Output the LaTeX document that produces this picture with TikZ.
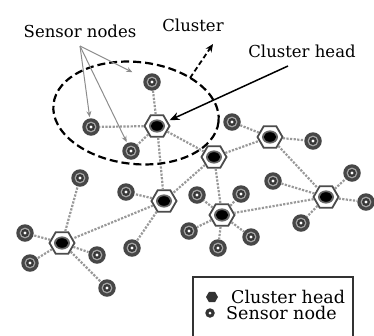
\documentclass[tikz,border=0pt]{standalone}
\usepackage{fontspec}
\setmainfont{DejaVu Serif}
\usetikzlibrary{shapes.geometric,arrows.meta}

\tikzset{
  sensor/.style={circle, inner sep=0pt, minimum size=17.5pt, fill=black!72,
    path picture={
      \fill[black!35] (path picture bounding box.center) circle (5.4pt);
      \fill[black!78] (path picture bounding box.center) circle (4pt);
      \fill[white] (path picture bounding box.center) circle (1.7pt);}},
  chead/.style={regular polygon, regular polygon sides=6, inner sep=0pt,
    minimum size=25pt, draw=black!70, line width=1.8pt, fill=white,
    path picture={
      \fill[black!60] (path picture bounding box.center) ellipse (8pt and 6.6pt);
      \fill[black] (path picture bounding box.center) ellipse (6.2pt and 4.8pt);}},
  link/.style={draw=black!40, line width=2.2pt, dash pattern=on 2.2pt off 1.4pt},
  lbl/.style={font=\fontsize{16.5}{19}\selectfont, inner sep=0pt},
  ptr/.style={draw=black!45, line width=1pt, -{Stealth[length=6pt,width=5pt]}}
}

\begin{document}
\begin{tikzpicture}[x=1pt,y=-1pt]
    \useasboundingbox (0,0) rectangle (374,335);

    % cluster heads
    \node[chead] (h1) at (157,126) {};
    \node[chead] (h2) at (214,157) {};
    \node[chead] (h3) at (270,137) {};
    \node[chead] (h4) at (326,197) {};
    \node[chead] (h5) at (164,201) {};
    \node[chead] (h6) at (222,215) {};
    \node[chead] (h7) at (62,243) {};

    % sensor nodes
    \node[sensor] (s1) at (152,82) {};
    \node[sensor] (s2) at (91,127) {};
    \node[sensor] (s3) at (131,151) {};
    \node[sensor] (s4) at (232,122) {};
    \node[sensor] (s5) at (313,141) {};
    \node[sensor] (s6) at (273,181) {};
    \node[sensor] (s7) at (352,173) {};
    \node[sensor] (s8) at (366,202) {};
    \node[sensor] (s9) at (301,223) {};
    \node[sensor] (s10) at (241,194) {};
    \node[sensor] (s11) at (197,195) {};
    \node[sensor] (s12) at (189,231) {};
    \node[sensor] (s13) at (218,248) {};
    \node[sensor] (s14) at (251,237) {};
    \node[sensor] (s15) at (126,192) {};
    \node[sensor] (s16) at (132,248) {};
    \node[sensor] (s17) at (80,178) {};
    \node[sensor] (s18) at (25,233) {};
    \node[sensor] (s19) at (30,263) {};
    \node[sensor] (s20) at (97,255) {};
    \node[sensor] (s21) at (107,288) {};

    % links
    \draw[link] (h1) -- (s1);
    \draw[link] (h1) -- (s2);
    \draw[link] (h1) -- (s3);
    \draw[link] (h1) -- (h2);
    \draw[link] (h1) -- (h5);
    \draw[link] (h2) -- (h3);
    \draw[link] (h2) -- (h5);
    \draw[link] (h2) -- (h6);
    \draw[link] (h3) -- (s4);
    \draw[link] (h3) -- (s5);
    \draw[link] (h3) -- (h4);
    \draw[link] (h4) -- (s6);
    \draw[link] (h4) -- (s7);
    \draw[link] (h4) -- (s8);
    \draw[link] (h4) -- (s9);
    \draw[link] (h4) -- (h6);
    \draw[link] (h6) -- (s10);
    \draw[link] (h6) -- (s11);
    \draw[link] (h6) -- (s12);
    \draw[link] (h6) -- (s13);
    \draw[link] (h6) -- (s14);
    \draw[link] (h5) -- (s15);
    \draw[link] (h5) -- (s16);
    \draw[link] (h5) -- (h7);
    \draw[link] (h7) -- (s17);
    \draw[link] (h7) -- (s18);
    \draw[link] (h7) -- (s19);
    \draw[link] (h7) -- (s20);
    \draw[link] (h7) -- (s21);

    % cluster
    \draw[line width=2.2pt, dash pattern=on 8pt off 4pt, rotate around={-6:(136,113)}]
        (136,113) ellipse (83 and 51);

    % labels
    \node[lbl] (lsn) at (80,31) {Sensor nodes};
    \node[lbl] (lcl) at (193,25) {Cluster};
    \node[lbl] (lch) at (302,51) {Cluster head};

    \coordinate (sn) at (80,46);
    \draw[ptr, shorten >=1pt] (sn) -- (s2);
    \draw[ptr, shorten >=1pt] (sn) -- (s3);
    \draw[ptr, shorten >=13pt] (sn) -- (s1);

    \coordinate (cl0) at (190,78);
    \coordinate (cl1) at (213,44);
    \draw[line width=1.8pt, dash pattern=on 5pt off 3pt, -{Stealth[length=8pt,width=7pt]}] (cl0) -- (cl1);

    \coordinate (hd) at (288,66);
    \draw[line width=1.5pt, shorten >=2pt, -{Stealth[length=10pt,width=8pt]}] (hd) -- (h1);

    % legend
    \draw[black!80, line width=1.2pt] (193,277) rectangle (353,340);
    \node[regular polygon, regular polygon sides=6, inner sep=0pt, minimum size=12pt, fill=black!80] (kh) at (212,297) {};
    \node[circle, inner sep=0pt, minimum size=9.5pt, fill=black!80] (ks) at (210,313) {};
    \fill[white] (ks) circle (1.5pt);
    \node[lbl, font=\fontsize{17.5}{20}\selectfont, anchor=west] (kht) at (231,297) {Cluster head};
    \node[lbl, font=\fontsize{17.5}{20}\selectfont, anchor=west] (kst) at (226,313) {Sensor node};
\end{tikzpicture}
\end{document}
